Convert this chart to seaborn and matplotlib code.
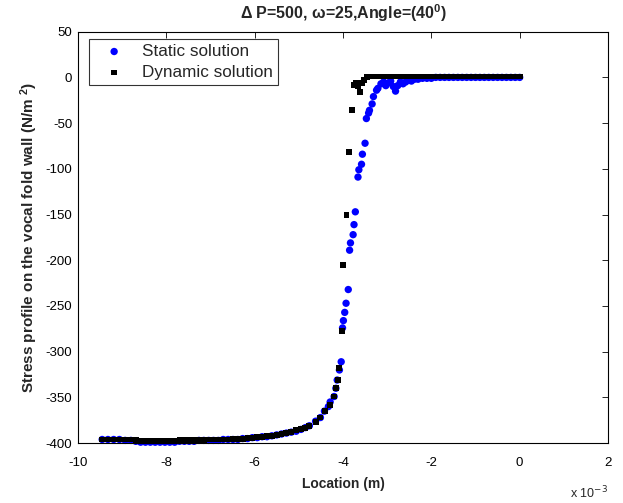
import matplotlib
matplotlib.use("Agg")
import matplotlib.pyplot as plt
import seaborn as sns
import pandas as pd

# location values in units of 1e-3 m
x_left = [-9.45, -9.32, -9.19, -9.06, -8.93, -8.80, -8.69, -8.58, -8.47, -8.36,
          -8.25, -8.14, -8.03, -7.92, -7.81, -7.70, -7.59, -7.48, -7.37, -7.26,
          -7.15, -7.04, -6.93, -6.82, -6.71, -6.60, -6.49, -6.38, -6.27, -6.16,
          -6.05, -5.94, -5.83, -5.72, -5.61, -5.50, -5.39, -5.28, -5.17, -5.06,
          -4.95, -4.85]
static_left = [-396, -396, -396, -396, -397, -397, -398, -399, -399, -399,
               -399, -399, -399, -399, -399, -398, -398, -398, -398, -397,
               -397, -397, -397, -397, -396, -396, -396, -396, -395, -395,
               -394, -394, -393, -393, -392, -391, -390, -389, -388, -387,
               -385, -383]
dynamic_left = [-396, -396, -396, -396, -396, -396, -397, -398, -398, -398,
                -398, -398, -398, -398, -398, -397, -397, -397, -397, -397,
                -397, -396, -396, -396, -396, -396, -395, -395, -395, -394,
                -394, -393, -393, -392, -392, -391, -390, -389, -388, -386,
                -385, -383]

static_x = [-4.76, -4.62, -4.51, -4.42, -4.33, -4.29, -4.20, -4.16, -4.13, -4.08,
            -4.04, -4.01, -3.99, -3.96, -3.93, -3.88, -3.85, -3.83, -3.77, -3.75,
            -3.72, -3.66, -3.64, -3.58, -3.56, -3.50, -3.47, -3.42, -3.40, -3.34,
            -3.31, -3.24, -3.21, -3.14, -3.08, -3.03, -2.97, -2.92, -2.86, -2.81,
            -2.76, -2.70, -2.64, -2.58, -2.52, -2.45, -2.38, -2.30, -2.20, -2.10,
            -2.00, -1.90, -1.80, -1.70, -1.60, -1.50, -1.40, -1.30, -1.20, -1.10,
            -1.00, -0.90, -0.80, -0.70, -0.60, -0.50, -0.40, -0.30, -0.20, -0.10,
            0.00]
static_y = [-381, -376, -372, -365, -360, -355, -349, -340, -331, -320,
            -311, -274, -266, -257, -247, -232, -189, -181, -172, -161,
            -147, -109, -101, -95, -84, -72, -45, -39, -36, -29,
            -21, -14, -12, -7, -5, -9, -6, -4, -10, -15,
            -9, -5, -7, -5, -3, -4, -2, -2, -1, -1,
            -1, 0, 0, 0, 0, 0, 0, 0, 0, 0,
            0, 0, 0, 0, 0, 0, 0, 0, 0, 0,
            0]

dynamic_x = [-4.76, -4.62, -4.51, -4.40, -4.29, -4.20, -4.16, -4.12, -4.08, -4.03,
             -3.99, -3.92, -3.87, -3.80, -3.76, -3.70, -3.66, -3.62, -3.56, -3.52,
             -3.46, -3.40, -3.30, -3.20, -3.10, -3.00, -2.90, -2.80, -2.70, -2.60,
             -2.50, -2.40, -2.30, -2.20, -2.10, -2.00, -1.90, -1.80, -1.70, -1.60,
             -1.50, -1.40, -1.30, -1.20, -1.10, -1.00, -0.90, -0.80, -0.70, -0.60,
             -0.50, -0.40, -0.30, -0.20, -0.10, 0.00]
dynamic_y = [-381, -377, -372, -365, -358, -349, -340, -331, -318, -277,
             -205, -150, -82, -36, -8, -6, -10, -16, -6, -3,
             0, 1, 1, 1, 1, 1, 1, 1, 1, 1,
             1, 1, 1, 1, 1, 1, 1, 1, 1, 1,
             1, 1, 1, 1, 1, 1, 1, 1, 1, 1,
             1, 1, 1, 1, 1, 1]

static_df = pd.DataFrame({"x": x_left + static_x, "y": static_left + static_y})
dynamic_df = pd.DataFrame({"x": x_left + dynamic_x, "y": dynamic_left + dynamic_y})

sns.set_style("white")
plt.rcParams["font.family"] = ["Liberation Sans", "DejaVu Sans"]
plt.rcParams["axes.unicode_minus"] = False
plt.rcParams["mathtext.fontset"] = "custom"
plt.rcParams["mathtext.rm"] = "Liberation Sans:bold"
plt.rcParams["mathtext.it"] = "Liberation Sans:bold"
plt.rcParams["mathtext.bf"] = "Liberation Sans:bold"

fig = plt.figure(figsize=(6.23, 5.03), dpi=100)
ax = fig.add_axes([0.125, 0.119, 0.851, 0.818])

sns.scatterplot(data=static_df, x="x", y="y", ax=ax, marker="o", s=28,
                color="#0000ff", edgecolor="none", label="Static solution",
                clip_on=False)
sns.scatterplot(data=dynamic_df, x="x", y="y", ax=ax, marker="s", s=18,
                color="black", edgecolor="none", label="Dynamic solution",
                clip_on=False)

ax.set_xlim(-10, 2)
ax.set_ylim(-400, 50)
ax.set_xticks([-10, -8, -6, -4, -2, 0, 2])
ax.set_yticks(range(-400, 51, 50))
ax.tick_params(direction="in", length=4, width=0.6, top=True, right=True,
               labelsize=9.5, colors="black")
ax.tick_params(axis="x", pad=10)
ax.tick_params(axis="y", pad=4)
for sp in ax.spines.values():
    sp.set_color("black")
    sp.set_linewidth(0.8)

ax.set_xlabel("Location (m)", fontsize=10, fontweight="bold", labelpad=6)
ax.set_ylabel("Stress profile on the vocal fold wall (N/m $^{2}$)",
              fontsize=11, fontweight="bold", labelpad=4)
ax.set_title(r"$\Delta$ P=500, $\omega$=25,Angle=(40$^{0}$)",
             fontsize=11.5, fontweight="bold", pad=9)
ax.text(1.0, -0.122, "x 10$^{-3}$", transform=ax.transAxes, fontsize=9,
        ha="right", va="center", math_fontfamily="dejavusans")

leg = ax.legend(loc="upper left", bbox_to_anchor=(0.012, 0.995), fontsize=12.3,
                frameon=True, fancybox=False, edgecolor="black",
                borderpad=0.3, handletextpad=0.5, handlelength=2.3,
                labelspacing=0.35, markerscale=1.0, borderaxespad=0.3)
leg.get_frame().set_linewidth(0.8)

fig.savefig("out.png", dpi=100, facecolor="white")
